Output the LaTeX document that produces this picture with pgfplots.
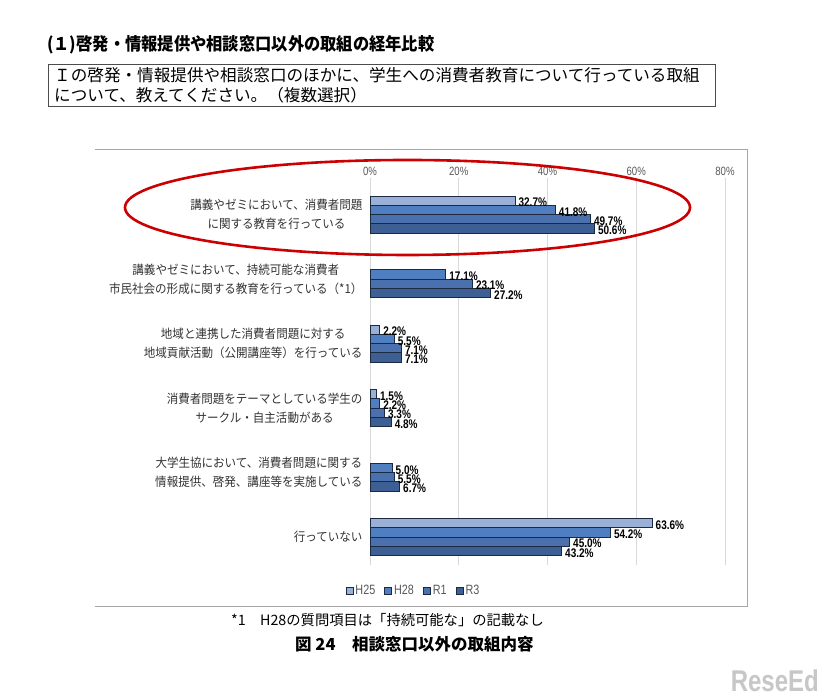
\documentclass[border=0pt]{standalone}
\usepackage{pgfplots}
\pgfplotsset{compat=1.18}
\usepackage{fontspec}
\setmainfont{Noto Sans CJK JP}
\newfontfamily\jpn[FakeStretch=0.93]{Noto Sans CJK JP}
\newfontfamily\jpw{Noto Sans CJK JP}
\newfontfamily\numf[FakeStretch=0.8]{Liberation Sans}
\definecolor{cH25}{HTML}{9BB0D6}
\definecolor{cH28}{HTML}{4F7FC0}
\definecolor{cR1}{HTML}{4A70AD}
\definecolor{cR3}{HTML}{3E5F93}
\definecolor{edge}{HTML}{1B2A40}
\definecolor{txt}{HTML}{333333}
\newcommand\legtext[1]{{\numf\fontsize{13.5}{14}\selectfont\color{black!65}#1}}
\begin{document}
\begin{tikzpicture}
\path[fill=white] (0pt,0pt) rectangle (826pt,700pt);
% heading
\node[anchor=west, inner sep=0pt, font=\jpn\bfseries\fontsize{17.5}{20}\selectfont] at (47pt,655pt) {(１)啓発・情報提供や相談窓口以外の取組の経年比較};
\draw[black!70, line width=0.9pt] (48pt,636pt) rectangle (715pt,594pt);
\node[anchor=west, inner sep=0pt, font=\jpw\fontsize{16.6}{20}\selectfont] at (54pt,624.5pt) {Ｉの啓発・情報提供や相談窓口のほかに、学生への消費者教育について行っている取組};
\node[anchor=west, inner sep=0pt, font=\jpw\fontsize{16.6}{20}\selectfont] at (54pt,604.5pt) {について、教えてください。（複数選択）};
% chart frame
\draw[black!35, line width=1pt] (95pt,550pt) -- (747pt,550pt) -- (747pt,93pt) -- (95pt,93pt);
\begin{axis}[
  at={(370pt,135pt)}, anchor=south west,
  scale only axis, width=355pt, height=387pt,
  xmin=0, xmax=80, ymin=-0.566, ymax=5.434,
  y dir=reverse,
  xbar, bar width=9.25pt,
  axis line style={draw=none},
  major tick length=0pt,
  xtick={0,20,40,60,80},
  xticklabels={0\%,20\%,40\%,60\%,80\%},
  xticklabel pos=upper,
  xticklabel style={font=\numf\fontsize{12}{12}\selectfont, text=black!65, yshift=-1pt},
  xmajorgrids, grid style={draw=black!15, line width=0.9pt},
  ytick={0,1,2,3,4,5},
  yticklabels={
    {講義やゼミにおいて、消費者問題\\に関する教育を行っている},
    {講義やゼミにおいて、持続可能な消費者\\市民社会の形成に関する教育を行っている（*1）},
    {地域と連携した消費者問題に対する\\地域貢献活動（公開講座等）を行っている},
    {消費者問題をテーマとしている学生の\\サークル・自主活動がある},
    {大学生協において、消費者問題に関する\\情報提供、啓発、講座等を実施している},
    {行っていない}},
  yticklabel style={align=center, font=\jpn\fontsize{12.4}{19}\selectfont, text=txt, xshift=-4pt},
  nodes near coords={\pgfmathprintnumber[fixed,fixed zerofill,precision=1,assume math mode=true]{\pgfplotspointmeta}\%},
  point meta=x,
  nodes near coords style={font=\numf\bfseries\fontsize{12.5}{12.5}\selectfont, text=black, inner sep=1pt, xshift=2pt, yshift=-2pt},
  every axis plot/.append style={draw=edge, line width=1pt},
  legend columns=4,
  legend style={at={(0.1225,-0.067)}, anchor=center, draw=none, fill=none,
    /tikz/every even column/.append style={column sep=7pt}},
  legend image code/.code={\draw[#1, line width=0.9pt] (0pt,-3.5pt) rectangle (7pt,3.5pt);},
  clip=false,
]
\addplot[fill=cH25, bar shift=13.875pt] coordinates {(32.7,0) (2.2,2) (1.5,3) (63.6,5)};
\addplot[fill=cH28, bar shift=4.625pt] coordinates {(41.8,0) (17.1,1) (5.5,2) (2.2,3) (5.0,4) (54.2,5)};
\addplot[fill=cR1, bar shift=-4.625pt] coordinates {(49.7,0) (23.1,1) (7.1,2) (3.3,3) (5.5,4) (45.0,5)};
\addplot[fill=cR3, bar shift=-13.875pt] coordinates {(50.6,0) (27.2,1) (7.1,2) (4.8,3) (6.7,4) (43.2,5)};
\legend{\legtext{H25},\legtext{H28},\legtext{R1},\legtext{R3}}
\end{axis}
% annotation ellipse
\draw[red!80!black, line width=2.6pt] (407.5pt,492.5pt) ellipse [x radius=282.5pt, y radius=47.5pt];
% notes
\node[anchor=west, inner sep=0pt, font=\jpw\fontsize{14.3}{16}\selectfont] at (231pt,80pt) {*1\hspace{1em}H28の質問項目は「持続可能な」の記載なし};
\node[anchor=west, inner sep=0pt, font=\jpw\bfseries\fontsize{16.5}{18}\selectfont] at (295pt,56pt) {図 24\hspace{1em}相談窓口以外の取組内容};
\node[anchor=south east, inner sep=1pt, font=\numf\bfseries\fontsize{30}{30}\selectfont, text=black!22] at (820pt,7pt) {ReseEd};
\end{tikzpicture}
\end{document}
